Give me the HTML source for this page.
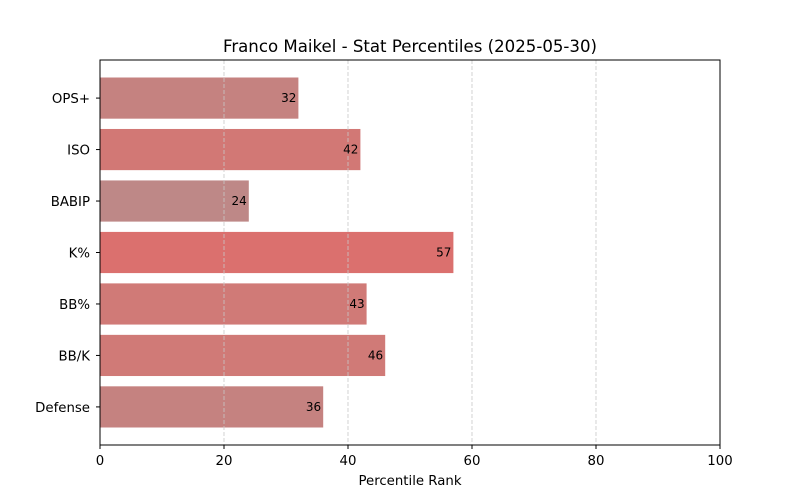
<!DOCTYPE html>
<html><head><meta charset="utf-8"><style>body{margin:0;background:#fff}svg{display:block;font-family:"DejaVu Sans","Liberation Sans",sans-serif}</style></head>
<body>
<svg id="chart" width="800" height="500" xmlns="http://www.w3.org/2000/svg">
<text x="410" y="52" font-size="16.6" text-anchor="middle">Franco Maikel - Stat Percentiles (2025-05-30)</text>
<g id="bars"></g><g id="grid"></g><g id="labels"></g><g id="axes"></g>
<text x="410" y="485" font-size="13.3" text-anchor="middle">Percentile Rank</text>
</svg>
<script>
const categories=["OPS+","ISO","BABIP","K%","BB%","BB/K","Defense"];
const values=[32,42,24,57,43,46,36];
const colors=["#c58280","#d27875","#be8887","#db706e","#d07a77","#d07a77","#c58280"];
const xTicks=[0,20,40,60,80,100];
const NS="http://www.w3.org/2000/svg";
const L=100,R=720,T=60,B=445;
const x=v=>L+(v/100)*(R-L);
const y0=-0.74,y1=categories.length-1+0.74;
const y=i=>T+(i-y0)/(y1-y0)*(B-T);
const bh=0.8*(B-T)/(y1-y0);
function mk(tag,attrs,parent){const e=document.createElementNS(NS,tag);for(const k in attrs)e.setAttribute(k,attrs[k]);parent.appendChild(e);return e;}
const gB=document.getElementById('bars'),gG=document.getElementById('grid'),gL=document.getElementById('labels'),gA=document.getElementById('axes');
categories.forEach((c,i)=>{
 const r=mk('rect',{x:x(0),y:y(i)-bh/2,width:x(values[i])-x(0),height:bh,fill:colors[i]},gB);
 
 
 const t=mk('text',{x:x(values[i])-2,y:y(i)+4,'font-size':12,'text-anchor':'end',fill:'#000'},gL);t.textContent=values[i];
 
 
 mk('line',{x1:L-4,x2:L,y1:y(i),y2:y(i),stroke:'#000'},gA);
 const yl=mk('text',{x:L-10,y:y(i)+5,'font-size':13.3,'text-anchor':'end'},gA);yl.textContent=c;
 
 
});
xTicks.forEach(v=>{
 if(v>0&&v<100){const g=mk('line',{x1:x(v),x2:x(v),y1:T,y2:B,stroke:'#c8c8c8','stroke-dasharray':'4,2','stroke-width':0.8},gG);
 
 }
 mk('line',{x1:x(v),x2:x(v),y1:B,y2:B+4,stroke:'#000'},gA);
 const t=mk('text',{x:x(v),y:B+20,'font-size':13.3,'text-anchor':'middle'},gA);t.textContent=v;
 
 
});
const f=mk('rect',{x:L,y:T,width:R-L,height:B-T,fill:'none',stroke:'#000','stroke-width':1},gA);


</script>
</body></html>
